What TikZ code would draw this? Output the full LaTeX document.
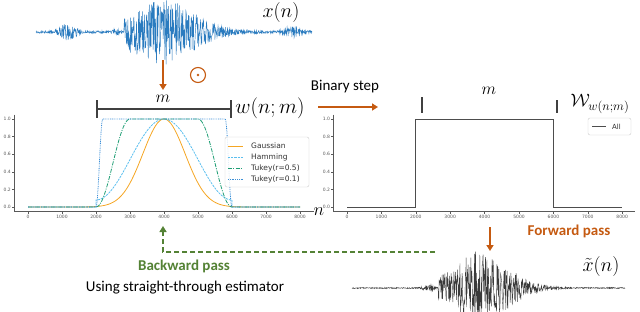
\RequirePackage{fix-cm}
\documentclass[tikz,border=0pt]{standalone}
\usepackage[no-math]{fontspec}
\setmainfont{Carlito}
\newfontfamily\plotfont{DejaVu Sans}
\usetikzlibrary{arrows.meta}
\definecolor{arrorange}{HTML}{C55A11}
\definecolor{arrgreen}{HTML}{548235}
\definecolor{wavblue}{HTML}{2A7BBF}
\definecolor{wavgray}{HTML}{3A3A3A}
\definecolor{gaussc}{HTML}{F5A623}
\definecolor{hammc}{HTML}{5BBFEF}
\definecolor{tukfc}{HTML}{1E9E74}
\definecolor{tukoc}{HTML}{3C8FD6}
\definecolor{stepc}{HTML}{4D4D4D}
\begin{document}
\begin{tikzpicture}[x=1pt,y=-1pt,
  declare function={
    gs(\x,\c,\s)=exp(-min(((\x-\c)/\s)^2,9));
    envT(\x)=1.2+8*gs(\x,68,9)+5*gs(\x,293,10)+3*gs(\x,116,3)+(\x>124)*(\x<160)*(17+15*(\x-124)/36)+(\x>=160)*32*gs(\x,160,45);
    envB(\x)=0.6+3*gs(\x,428,6)+(\x>438)*(\x<475)*(10+27*(\x-438)/37)+(\x>=475)*37*gs(\x,475,42);
  },
  orarrow/.style={draw=arrorange, line width=1.8pt, -{Triangle[length=6pt,width=7pt]}},
  grarrow/.style={draw=arrgreen, line width=1.5pt, dash pattern=on 5pt off 3pt, -{Triangle[length=6pt,width=7pt]}},
  bracketline/.style={draw=black!75, line width=1.1pt},
  spine/.style={draw=black!65, line width=0.5pt},
  ticklbl/.style={font=\plotfont\fontsize{4.5}{5}\selectfont, text=black!65, inner sep=0.5pt},
  legtext/.style={font=\plotfont\fontsize{7.5}{8}\selectfont, text=black!80, inner sep=0pt, anchor=west},
  mathlbl/.style={inner sep=0pt},
  captxt/.style={font=\fontsize{15}{17}\selectfont, inner sep=0pt},
  gausssty/.style={draw=gaussc, line width=0.8pt},
  hammsty/.style={draw=hammc, line width=0.8pt, dash pattern=on 2.2pt off 1pt},
  tukfsty/.style={draw=tukfc, line width=0.8pt, dash pattern=on 4pt off 1.3pt on 1pt off 1.3pt},
  tukosty/.style={draw=tukoc, line width=0.8pt, dash pattern=on 0.9pt off 0.9pt},
]
\useasboundingbox (0,0) rectangle (640,311);
\clip (0,0) rectangle (640,311);
\pgfmathsetseed{4321}

% ---------- top waveform ----------
\draw[wavblue, line width=0.45pt] plot[domain=36:312, samples=800] (\x,{32-envT(\x)*rand});
\node[mathlbl, font=\fontsize{20}{24}\selectfont] (xn) at (281,12) {$x(n)$};

% orange arrow + odot
\coordinate (a1) at (163,60);
\coordinate (a2) at (163,90);
\draw[orarrow] (a1) -- (a2);
\node[circle, draw=arrorange, line width=1.1pt, minimum size=15pt, inner sep=0pt] (odot) at (198,75) {};
\fill[arrorange] (odot.center) circle (1.3pt);

% ---------- left plot ----------
\draw[spine] (14,114.6) -- (14,211.5) -- (313.6,211.5);
\foreach \k in {0,...,8}{
  \draw[spine] ({28+34*\k},211.5) -- ++(0,2);
  \node[ticklbl, anchor=north] (lx\k) at ({28+34*\k},214.5) {\the\numexpr 1000*\k\relax};
}
\foreach \v/\t in {0/0.0,1/0.2,2/0.4,3/0.6,4/0.8,5/1.0}{
  \draw[spine] (14,{207-17.6*\v}) -- ++(-2,0);
  \node[ticklbl, anchor=east] (ly\v) at (11.5,{207-17.6*\v}) {\t};
}
% curves
\draw[gausssty] (28,207) -- (79,207) -- plot[domain=1500:6500, samples=161] ({28+0.034*\x},{207-88*gs(\x,4000,877)}) -- (300,207);
\draw[hammsty] (28,207) -- (96,207) -- plot[domain=2000:6000, samples=121] ({28+0.034*\x},{207-88*(0.54-0.46*cos(0.09*(\x-2000)))}) -- (232,207) -- (300,207);
\draw[tukfsty] (28,207) -- (96,207) -- plot[domain=2000:3000, samples=41] ({28+0.034*\x},{207-88*0.5*(1-cos(0.18*(\x-2000)))}) -- (198,119) -- plot[domain=5000:6000, samples=41] ({28+0.034*\x},{207-88*0.5*(1-cos(0.18*(6000-\x)))}) -- (300,207);
\draw[tukosty] (28,207) -- (96,207) -- plot[domain=2000:2200, samples=21] ({28+0.034*\x},{207-88*0.5*(1-cos(0.9*(\x-2000)))}) -- (225.2,119) -- plot[domain=5800:6000, samples=21] ({28+0.034*\x},{207-88*0.5*(1-cos(0.9*(6000-\x)))}) -- (300,207);
% legend
\draw[draw=black!20, fill=white, fill opacity=0.85, rounded corners=2pt] (225,137) rectangle (309,187);
\draw[gausssty] (228,146) -- (243,146);
\node[legtext] (lg1) at (251,146) {Gaussian};
\draw[hammsty] (228,157) -- (243,157);
\node[legtext] (lg2) at (251,157) {Hamming};
\draw[tukfsty] (228,168) -- (243,168);
\node[legtext] (lg3) at (251,168) {Tukey(r=0.5)};
\draw[tukosty] (228,179) -- (243,179);
\node[legtext] (lg4) at (251,179) {Tukey(r=0.1)};
\node[mathlbl, font=\fontsize{18}{20}\selectfont] (nlbl) at (319,212) {$n$};

% left bracket
\coordinate (bl) at (97,109);
\coordinate (br) at (231,109);
\draw[bracketline] (bl) -- (br);
\draw[bracketline] (97,100) -- (97,118);
\draw[bracketline] (231,100) -- (231,118);
\node[mathlbl, font=\fontsize{17}{19}\selectfont] (mleft) at (163,99) {$m$};
\node[mathlbl, font=\fontsize{21}{24}\selectfont] (wlbl) at (270,108) {$w(n;m)$};

% binary step arrow
\node[captxt] (bstep) at (345,87) {Binary step};
\coordinate (b1) at (318,107);
\coordinate (b2) at (378,107);
\draw[orarrow] (b1) -- (b2);

% ---------- right plot ----------
\draw[spine] (333.2,114.6) -- (333.2,211.5) -- (635,211.5);
\foreach \k in {0,...,8}{
  \draw[spine] ({347+34.4*\k},211.5) -- ++(0,2);
  \node[ticklbl, anchor=north] (rx\k) at ({347+34.4*\k},214.5) {\the\numexpr 1000*\k\relax};
}
\foreach \v/\t in {0/0.0,1/0.2,2/0.4,3/0.6,4/0.8,5/1.0}{
  \draw[spine] (333.2,{207-17.6*\v}) -- ++(-2,0);
  \node[ticklbl, anchor=east] (ry\v) at (330.7,{207-17.6*\v}) {\t};
}
\draw[stepc, line width=1pt] (347,207) -- (415.8,207) -- (415.8,119) -- (553.4,119) -- (553.4,207) -- (622.2,207);
\draw[draw=black!20, fill=white, rounded corners=2pt] (588,118) rectangle (631,135);
\draw[stepc, line width=0.8pt] (592,126.5) -- (606,126.5);
\node[legtext, font=\plotfont\fontsize{7}{8}\selectfont] (lgall) at (612,126.5) {All};

% right bracket
\draw[bracketline] (422,97) -- (422,113);
\draw[bracketline] (557,100) -- (557,113);
\node[mathlbl, font=\fontsize{17}{19}\selectfont] (mright) at (489,91) {$m$};
\node[mathlbl, font=\fontsize{18}{20}\selectfont] (Wlbl) at (600,104) {$\mathcal{W}_{w(n;m)}$};

% ---------- forward pass ----------
\coordinate (f1) at (490,227);
\coordinate (f2) at (490,251);
\draw[orarrow] (f1) -- (f2);
\node[captxt, font=\bfseries\fontsize{15}{17}\selectfont, text=arrorange] (fwd) at (569,231) {Forward pass};

% ---------- bottom waveform ----------
\draw[wavgray, line width=0.4pt] plot[domain=352:625, samples=800] (\x,{288-envB(\x)*rand});
\node[mathlbl, font=\fontsize{20}{24}\selectfont] (xt) at (601,266) {$\tilde{x}(n)$};

% ---------- backward pass ----------
\coordinate (g0) at (435,252);
\coordinate (g1) at (163,252);
\coordinate (g2) at (163,226);
\draw[grarrow] (g0) -- (g1) -- (g2);
\node[captxt, font=\bfseries\fontsize{15}{17}\selectfont, text=arrgreen] (bwd) at (184,266) {Backward pass};
\node[captxt] (ste) at (185,288) {Using straight-through estimator};
\end{tikzpicture}
\end{document}
